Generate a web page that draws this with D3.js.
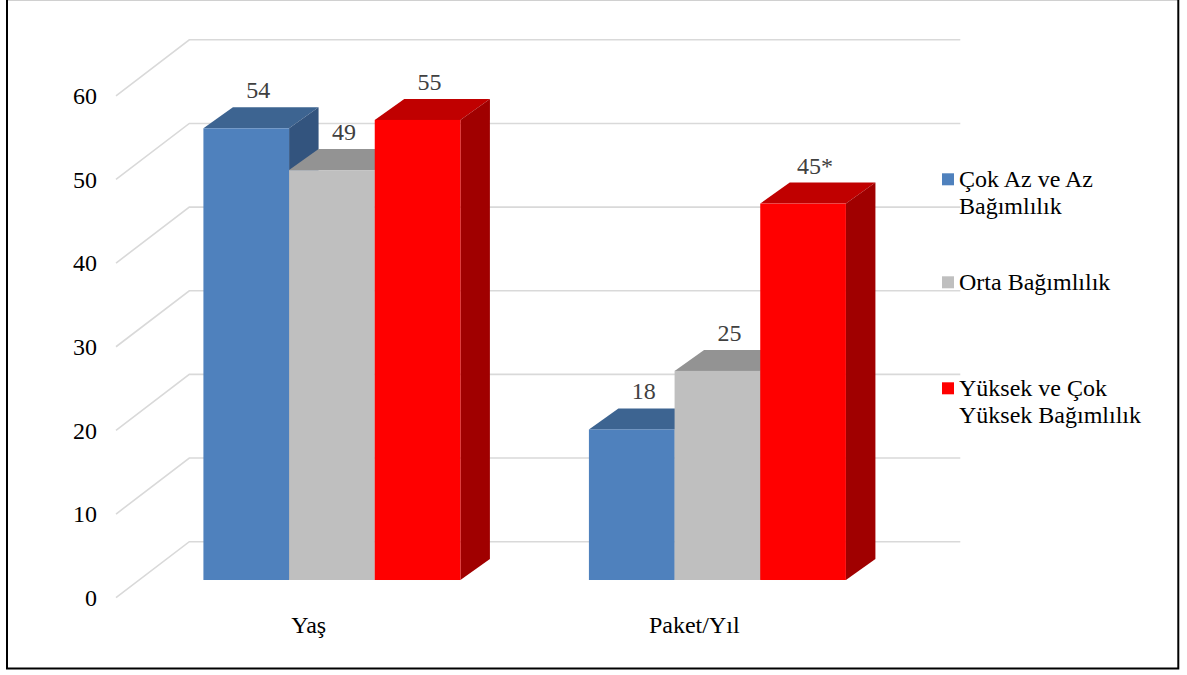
<!DOCTYPE html>
<html>
<head>
<meta charset="utf-8">
<script src="https://cdn.jsdelivr.net/npm/d3@7"></script>
<style>
  html, body { margin: 0; padding: 0; background: #fff; }
  svg { display: block; }
</style>
</head>
<body>
<div id="chart"></div>
<script>
// Categories and series values
const categories = ["Yaş", "Paket/Yıl"];
const seriesNames = ["Çok Az ve Az Bağımlılık", "Orta Bağımlılık", "Yüksek ve Çok Yüksek Bağımlılık"];
const lowValues = [54, 18];
const midValues = [49, 25];
const highValues = [55, 45];
const lowLabels = ["54", "18"];
const midLabels = ["49", "25"];
const highLabels = ["55", "45*"];
const legendLines = [["Çok Az ve Az", "Bağımlılık"], ["Orta Bağımlılık"], ["Yüksek ve Çok", "Yüksek Bağımlılık"]];
const yTicks = [0, 10, 20, 30, 40, 50, 60];

const W = 1187, H = 675;
const FONT = "'Liberation Serif', 'Times New Roman', 'DejaVu Serif', serif";
const FONT_SIZE = 24;

// Series styling: front, top and side face colours
const faceColors = [
  { front: "#4F81BD", top: "#3D6491", side: "#33547E" },
  { front: "#BFBFBF", top: "#939393", side: "#868686" },
  { front: "#FF0000", top: "#C00000", side: "#A00000" }
];

const seriesValues = [lowValues, midValues, highValues];
const seriesLabels = [lowLabels, midLabels, highLabels];

// Oblique 3D layout
const wallDx = 73.3, wallDy = -56;     // floor depth (front edge to back wall)
const barZ = 0.316;                    // bars' front plane as a fraction of floor depth
const barDx = 29.5, barDy = -21;       // bar depth

const svg = d3.select("#chart").append("svg")
  .attr("width", W).attr("height", H)
  .style("font-family", FONT);

// Value scale on the front plane
const y = d3.scaleLinear().domain([0, 60]).range([597.7, 95.8]);

// Category scale along the front floor edge
const x0 = d3.scaleBand().domain(categories).range([116, 887]).paddingInner(0).paddingOuter(0);
const x1 = d3.scaleBand().domain(d3.range(seriesNames.length))
  .range([0, x0.bandwidth()]).paddingInner(0).paddingOuter(0.75);

// Gridlines: side wall diagonal plus back wall horizontal
const grid = svg.append("g");
yTicks.forEach(t => {
  const yf = y(t);
  grid.append("path")
    .attr("d", `M${x0.range()[0]},${yf} L${x0.range()[0] + wallDx},${yf + wallDy} L${x0.range()[1] + wallDx},${yf + wallDy}`)
    .attr("fill", "none")
    .attr("stroke", "#D9D9D9")
    .attr("stroke-width", 1.6);
});

// Y axis tick labels
svg.append("g").selectAll("text").data(yTicks).join("text")
  .attr("x", 97)
  .attr("y", d => y(d))
  .attr("dy", "0.34em")
  .attr("text-anchor", "end")
  .attr("font-family", FONT)
  .attr("font-size", FONT_SIZE)
  .attr("fill", "#000")
  .text(d => d);

// Bars: drawn left to right so each bar's front face covers its neighbour's side
const bars = svg.append("g");
const labelLayer = svg.append("g");
const shiftX = wallDx * barZ, shiftY = wallDy * barZ;

categories.forEach((cat, ci) => {
  seriesNames.forEach((s, si) => {
    const v = seriesValues[si][ci];
    const xl = x0(cat) + x1(si) + shiftX;
    const xr = xl + x1.bandwidth();
    const yb = y(0) + shiftY;
    const yt = y(v) + shiftY;
    const c = faceColors[si];
    const g = bars.append("g");
    // top face
    g.append("path")
      .attr("d", `M${xl},${yt} L${xr},${yt} L${xr + barDx},${yt + barDy} L${xl + barDx},${yt + barDy} Z`)
      .attr("fill", c.top);
    // side face
    g.append("path")
      .attr("d", `M${xr},${yt} L${xr + barDx},${yt + barDy} L${xr + barDx},${yb + barDy} L${xr},${yb} Z`)
      .attr("fill", c.side);
    // front face
    g.append("rect")
      .attr("x", xl).attr("y", yt)
      .attr("width", xr - xl).attr("height", yb - yt)
      .attr("fill", c.front);

    // value label above the bar
    labelLayer.append("text")
      .attr("x", (xl + xr) / 2 + 12)
      .attr("y", yt + barDy - 9)
      .attr("text-anchor", "middle")
      .attr("font-family", FONT)
      .attr("font-size", FONT_SIZE)
      .attr("fill", "#404040")
      .text(seriesLabels[si][ci]);
  });
});

// Category labels
svg.append("g").selectAll("text").data(categories).join("text")
  .attr("x", d => x0(d) + x0.bandwidth() / 2)
  .attr("y", 633)
  .attr("text-anchor", "middle")
  .attr("font-family", FONT)
  .attr("font-size", FONT_SIZE)
  .attr("fill", "#000")
  .text(d => d);

// Legend
const legendBaselines = [187, 290, 396];
const legend = svg.append("g");
legendLines.forEach((lines, i) => {
  const b = legendBaselines[i];
  legend.append("rect")
    .attr("x", 942).attr("y", b - 13.7)
    .attr("width", 12).attr("height", 12)
    .attr("fill", faceColors[i].front);
  lines.forEach((ln, k) => {
    legend.append("text")
      .attr("x", 959)
      .attr("y", b + k * 26.5)
      .attr("font-family", FONT)
      .attr("font-size", FONT_SIZE)
      .attr("fill", "#000")
      .text(ln);
  });
});

// Frame
svg.append("line").attr("x1", 6).attr("x2", 1179).attr("y1", 0.5).attr("y2", 0.5)
  .attr("stroke", "#D0D0D0").attr("stroke-width", 1);
svg.append("path")
  .attr("d", "M7,0 L7,668.5 L1178.3,668.5 L1178.3,0")
  .attr("fill", "none")
  .attr("stroke", "#000")
  .attr("stroke-width", 2);
</script>
</body>
</html>
